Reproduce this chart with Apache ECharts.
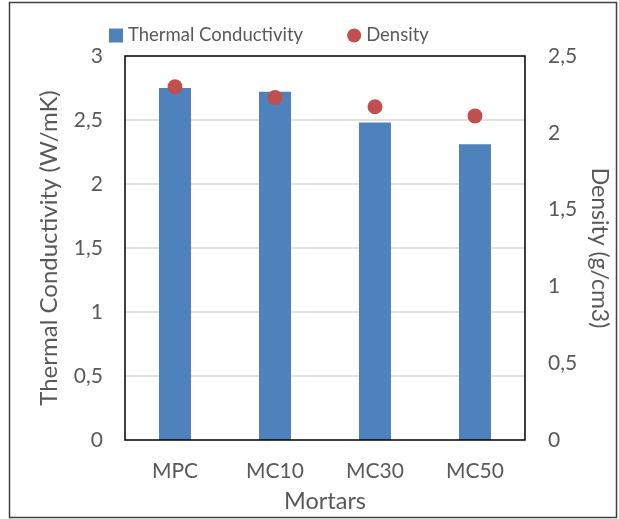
<!DOCTYPE html>
<html>
<head>
<meta charset="utf-8">
<script src="https://cdn.jsdelivr.net/npm/echarts@6/dist/echarts.min.js"></script>
<style>
  html, body { margin: 0; padding: 0; background: #fff; }
  #chart { width: 619px; height: 519px; }
</style>
</head>
<body>
<div id="chart"></div>
<script>
var categories = ['MPC', 'MC10', 'MC30', 'MC50']
var conductivity = [2.75, 2.72, 2.48, 2.31]
var density = [2.30, 2.23, 2.17, 2.11]

var textColor = '#595959'
var font = 'Lato'

function comma(v) {
  return String(v).replace('.', ',')
}

var myChart = echarts.init(document.getElementById('chart'))
var option = {
  backgroundColor: '#ffffff',
  textStyle: { fontFamily: font },
  graphic: [
    {
      type: 'rect',
      shape: { x: 9.5, y: 2.5, width: 607, height: 515 },
      style: { fill: 'none', stroke: '#404040', lineWidth: 1.5 },
      silent: true
    }
  ],
  legend: {
    left: 104,
    top: 21,
    itemWidth: 14,
    itemHeight: 14,
    itemGap: 44,
    textStyle: { color: textColor, fontSize: 18.5, fontFamily: font },
    data: [
      { name: 'Thermal Conductivity', icon: 'rect' },
      { name: 'Density', icon: 'circle' }
    ]
  },
  grid: {
    left: 125,
    top: 56,
    width: 407,
    height: 384,
    show: true,
    borderColor: '#000000',
    borderWidth: 1.5,
    z: 3,
    containLabel: false
  },
  xAxis: {
    type: 'category',
    data: categories,
    name: 'Mortars',
    nameLocation: 'middle',
    nameGap: 49,
    nameTextStyle: { color: textColor, fontSize: 23.5 },
    axisTick: { show: false },
    axisLine: { show: false },
    axisLabel: { color: textColor, fontSize: 21, margin: 21 }
  },
  yAxis: [
    {
      type: 'value',
      min: 0,
      max: 3,
      interval: 0.5,
      name: 'Thermal Conductivity (W/mK)',
      nameLocation: 'middle',
      nameGap: 64,
      nameTextStyle: { color: textColor, fontSize: 24 },
      axisLine: { show: false },
      axisTick: { show: false },
      axisLabel: { color: textColor, fontSize: 21, margin: 22, formatter: comma },
      splitLine: { showMinLine: false, showMaxLine: false, lineStyle: { color: '#d9d9d9', width: 1.5 } }
    },
    {
      type: 'value',
      min: 0,
      max: 2.5,
      interval: 0.5,
      position: 'right',
      name: 'Density (g/cm3)',
      nameLocation: 'middle',
      nameRotate: -90,
      nameGap: 43,
      nameTextStyle: { color: textColor, fontSize: 23 },
      axisLine: { show: false },
      axisTick: { show: false },
      axisLabel: { color: textColor, fontSize: 21, margin: 23, formatter: comma },
      splitLine: { show: false }
    }
  ],
  series: [
    {
      name: 'Thermal Conductivity',
      type: 'bar',
      barWidth: 32,
      yAxisIndex: 0,
      itemStyle: { color: '#4f81bd' },
      data: conductivity
    },
    {
      name: 'Density',
      type: 'scatter',
      yAxisIndex: 1,
      symbol: 'circle',
      symbolSize: 15,
      itemStyle: { color: '#c0504d', opacity: 1 },
      data: density
    }
  ]
}
myChart.setOption(option, true)
</script>
</body>
</html>
